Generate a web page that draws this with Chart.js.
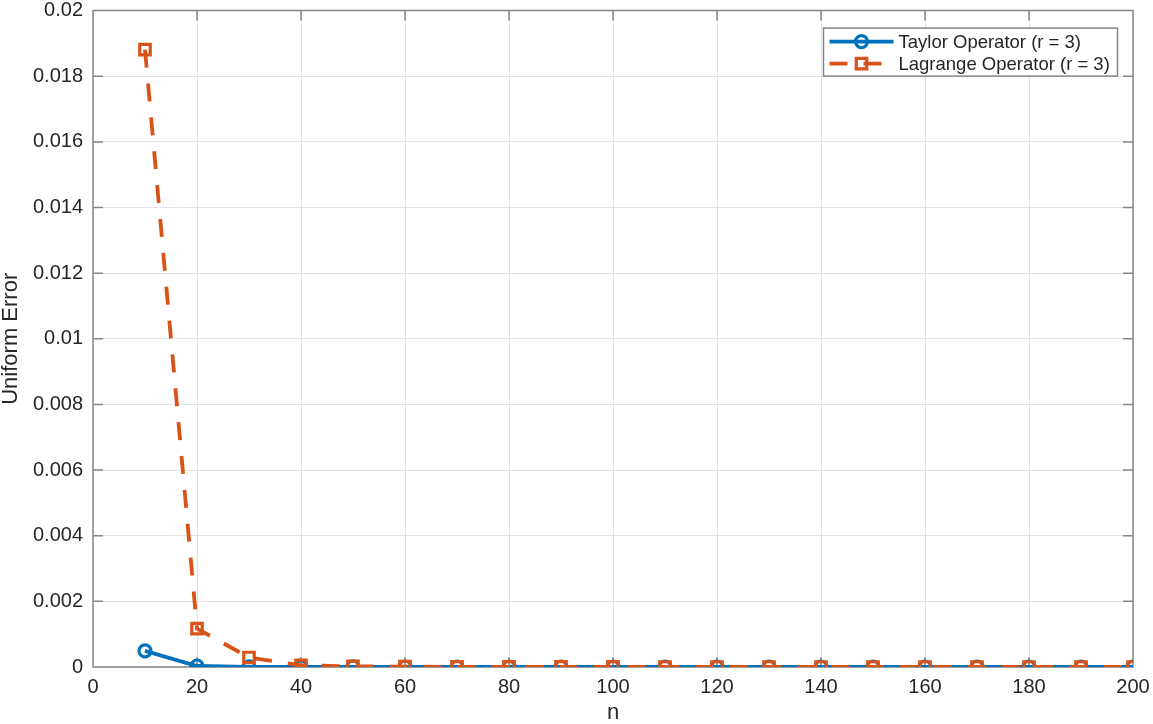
<!DOCTYPE html>
<html>
<head>
<meta charset="utf-8">
<title>Uniform Error</title>
<script src="https://cdn.jsdelivr.net/npm/chart.js"></script>
<style>
  html, body { margin: 0; padding: 0; background: #fff; }
  #wrap { width: 1153px; height: 724px; position: relative; }
</style>
</head>
<body>
<div id="wrap"><canvas id="chart"></canvas></div>
<script>
// n values where the error was measured
const nValues = [10, 20, 30, 40, 50, 60, 70, 80, 90, 100, 110, 120, 130, 140, 150, 160, 170, 180, 190, 200];

const taylorError = [0.00049, 0.00003, 0.000006, 0.000002, 0.000001, 0.0000006, 0.0000004, 0.0000003, 0.0000002, 0.0000002,
    0.0000001, 0.0000001, 0.0000001, 0.0000001, 0.0000001, 0.0000001, 0.0000001, 0.0000001, 0.0000001, 0.0000001];
const lagrangeError = [0.01881, 0.00117, 0.00029, 0.00005, 0.00002, 0.00001, 0.000005, 0.000003, 0.000002, 0.0000015,
    0.000001, 0.0000008, 0.0000006, 0.0000005, 0.0000004, 0.0000003, 0.0000003, 0.0000002, 0.0000002, 0.0000002];

const seriesNames = ["Taylor Operator (r = 3)", "Lagrange Operator (r = 3)"];

const xTickValues = [0, 20, 40, 60, 80, 100, 120, 140, 160, 180, 200];
const yTickValues = [0, 0.002, 0.004, 0.006, 0.008, 0.01, 0.012, 0.014, 0.016, 0.018, 0.02];
const yTickLabels = ["0", "0.002", "0.004", "0.006", "0.008", "0.01", "0.012", "0.014", "0.016", "0.018", "0.02"];

const fontFamily = "'Liberation Sans', Arial, Helvetica, sans-serif";
const textColor = "#262626";
const axisColor = "#868686";
const gridColor = "#e2e2e2";

// box round the plot + inward tick marks on all four sides (matlab style)
const frame = {
    id: "frame",
    beforeDatasetsDraw(chart) {
        const {ctx, chartArea: a, scales: {x, y}} = chart;
        const tl = 10;
        ctx.save();
        ctx.strokeStyle = axisColor;
        ctx.lineWidth = 1.5;
        ctx.beginPath();
        x.ticks.forEach(t => {
            const px = x.getPixelForValue(t.value);
            ctx.moveTo(px, a.bottom); ctx.lineTo(px, a.bottom - tl);
            ctx.moveTo(px, a.top); ctx.lineTo(px, a.top + tl);
        });
        y.ticks.forEach(t => {
            const py = y.getPixelForValue(t.value);
            ctx.moveTo(a.left, py); ctx.lineTo(a.left + tl, py);
            ctx.moveTo(a.right, py); ctx.lineTo(a.right - tl, py);
        });
        ctx.rect(a.left, a.top, a.right - a.left, a.bottom - a.top);
        ctx.stroke();
        ctx.restore();
    }
};

function drawMarker(ctx, style, r, cx, cy) {
    ctx.beginPath();
    if (style === "rect") {
        const s = r * Math.SQRT1_2;
        ctx.rect(cx - s, cy - s, 2 * s, 2 * s);
    } else {
        ctx.arc(cx, cy, r, 0, Math.PI * 2);
    }
    ctx.stroke();
}

// legend with line sample + marker, like the matlab one
const lineLegend = {
    id: "lineLegend",
    afterDraw(chart) {
        const {ctx, chartArea: a} = chart;
        const bw = 294, bh = 48;
        const bx = Math.round(a.right - 16 - bw) + 0.5;
        const by = a.top + 17.5;
        ctx.save();
        ctx.fillStyle = "#fff";
        ctx.fillRect(bx, by, bw, bh);
        ctx.strokeStyle = axisColor;
        ctx.lineWidth = 1.5;
        ctx.strokeRect(bx, by, bw, bh);
        chart.data.datasets.forEach((ds, i) => {
            const cy = by + 13.5 + i * 22;
            const x0 = bx + 6, x1 = bx + 70;
            ctx.strokeStyle = ds.borderColor;
            ctx.lineWidth = ds.borderWidth;
            ctx.setLineDash(ds.borderDash || []);
            ctx.beginPath();
            ctx.moveTo(x0, cy); ctx.lineTo(x1, cy);
            ctx.stroke();
            ctx.setLineDash([]);
            ctx.lineWidth = ds.pointBorderWidth;
            drawMarker(ctx, ds.pointStyle, ds.pointRadius, (x0 + x1) / 2, cy);
            ctx.fillStyle = textColor;
            ctx.font = `18.5px ${fontFamily}`;
            ctx.textAlign = "left";
            ctx.textBaseline = "middle";
            ctx.fillText(ds.label, x1 + 5, cy + 1);
        });
        ctx.restore();
    }
};

new Chart(document.getElementById("chart"), {
    type: "line",
    data: {
        datasets: [{
            label: seriesNames[0],
            data: nValues.map((n, i) => ({x: n, y: taylorError[i]})),
            borderColor: "#0072BD",
            borderWidth: 3.8,
            pointStyle: "circle",
            pointRadius: 6,
            pointBorderWidth: 3.2,
            pointBorderColor: "#0072BD",
            pointBackgroundColor: "rgba(0,0,0,0)",
            tension: 0,
            order: 1
        }, {
            label: seriesNames[1],
            data: nValues.map((n, i) => ({x: n, y: lagrangeError[i]})),
            borderColor: "#D95319",
            borderWidth: 3.8,
            borderDash: [18, 16],
            pointStyle: "rect",
            pointRadius: 7.4,
            pointBorderWidth: 3.2,
            pointBorderColor: "#D95319",
            pointBackgroundColor: "rgba(0,0,0,0)",
            tension: 0,
            order: 0
        }]
    },
    options: {
        responsive: true,
        maintainAspectRatio: false,
        animation: false,
        layout: {padding: {left: 0, top: 10, right: 20, bottom: 0}},
        plugins: {
            legend: {display: false},
            tooltip: {enabled: false}
        },
        scales: {
            x: {
                type: "linear",
                min: 0,
                max: 200,
                afterBuildTicks: s => { s.ticks = xTickValues.map(v => ({value: v})); },
                afterFit: s => { s.height = 57; s.paddingLeft = 0; s.paddingRight = 0; },
                ticks: {
                    color: textColor,
                    font: {family: fontFamily, size: 20},
                    padding: 8,
                    maxRotation: 0,
                    callback: v => String(v)
                },
                grid: {color: gridColor, lineWidth: 1, drawTicks: false},
                border: {display: false},
                title: {
                    display: true,
                    text: "n",
                    color: textColor,
                    font: {family: fontFamily, size: 22},
                    padding: {top: 0, bottom: -2}
                }
            },
            y: {
                type: "linear",
                min: 0,
                max: 0.02,
                afterBuildTicks: s => { s.ticks = yTickValues.map(v => ({value: v})); },
                afterFit: s => { s.width = 93; s.paddingTop = 0; s.paddingBottom = 0; },
                ticks: {
                    color: textColor,
                    font: {family: fontFamily, size: 20},
                    padding: 10,
                    callback: (v, i) => yTickLabels[i]
                },
                grid: {color: gridColor, lineWidth: 1, drawTicks: false},
                border: {display: false},
                title: {
                    display: true,
                    text: "Uniform Error",
                    color: textColor,
                    font: {family: fontFamily, size: 22},
                    padding: {top: -2, bottom: 0}
                }
            }
        }
    },
    plugins: [frame, lineLegend]
});
</script>
</body>
</html>
